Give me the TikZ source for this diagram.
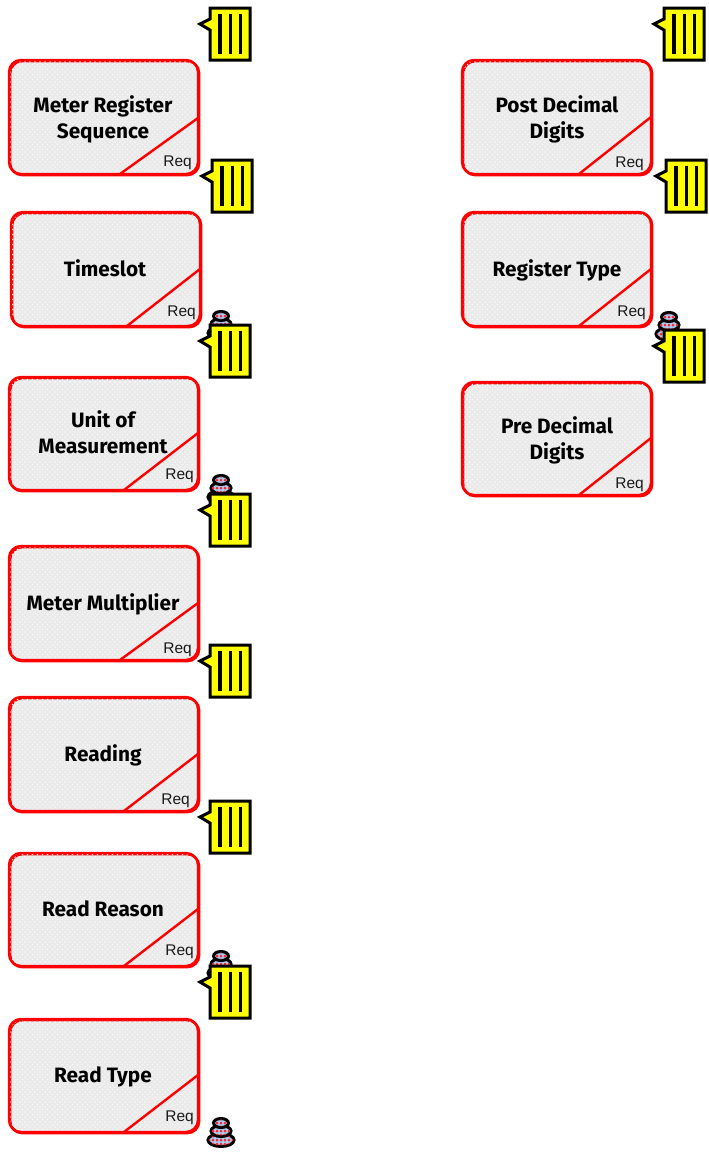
\documentclass[tikz,border=0pt]{standalone}
\usepackage{fontspec}
\setmainfont{Liberation Sans}
\newfontfamily\titlefont{Fira Sans}[UprightFont={* Bold}]
\usetikzlibrary{patterns,calc}
\pgfdeclarepatternformonly{cardweave}{\pgfpoint{-1pt}{-1pt}}{\pgfpoint{5pt}{5pt}}{\pgfpoint{5pt}{5pt}}{
  \pgfpathcircle{\pgfpoint{0pt}{0pt}}{0.95pt}
  \pgfpathcircle{\pgfpoint{2.5pt}{2.5pt}}{0.95pt}
  \pgfusepath{fill}
}
\definecolor{boxgrey}{RGB}{234,234,234}
\definecolor{stoneblue}{RGB}{168,204,244}
\definecolor{noteyellow}{RGB}{255,255,0}
\definecolor{cardred}{RGB}{255,0,0}
\tikzset{
  x=1pt,y=-1pt,
  regbox/.style={draw=cardred,line width=2.4pt,rounded corners=12pt,fill=boxgrey,inner sep=0pt,anchor=north west},
  boxtitle/.style={font=\titlefont\fontsize{20.8}{26}\selectfont,align=center,text=black,inner sep=0pt},
  reqlabel/.style={font=\fontsize{15.5}{16}\selectfont,text=black!90,inner sep=0pt,anchor=mid east},
  notebody/.style={draw=black,line width=3pt,fill=noteyellow,line join=miter},
  stone/.style={draw=black,line width=3pt,fill=stoneblue},
}
\newcommand{\regcard}[9]{% name l t r b diagx diagy reqright reqy
  \node[regbox,minimum width=#4pt-#2pt,minimum height=#5pt-#3pt] (#1) at (#2,#3) {};
  \fill[pattern=cardweave,pattern color=white!70!boxgrey,rounded corners=12pt] (#2,#3) rectangle (#4,#5);
  \draw[cardred,line width=2.4pt,rounded corners=12pt] (#2,#3) rectangle (#4,#5);
  \draw[cardred,line width=2.4pt] (#6,#5) -- (#4,#7);
  \node[reqlabel] (#1req) at (#8,#9) {Req};
}
\newcommand{\notemark}[2]{% left top
  \begin{scope}[shift={(#1,#2)}]
    \draw[notebody] (0,0) -- (40,0) -- (40,52) -- (0,52) -- (0,22) -- (-10,16) -- (0,11) -- cycle;
    \foreach \xx in {10,20.5,30.5} \draw[black,line width=3.2pt] (\xx,6) -- (\xx,46);
  \end{scope}
}
\newcommand{\stack}[2]{% centre x, top y
  \begin{scope}[shift={(#1,#2)}]
    \foreach \cy/\rx/\ry in {22/13/6.5,13/10/5.5,5/7.5/4.5}{
      \draw[stone] (0,\cy) ellipse [x radius=\rx,y radius=\ry];
      \begin{scope}
        \clip (0,\cy) ellipse [x radius=\rx-1,y radius=\ry-1];
        \foreach \dx in {-12,-8,...,12} \foreach \dy in {-4,0,4}
          \fill[cardred!85!white] (\dx,\cy+\dy) circle (1.5);
      \end{scope}
    }
  \end{scope}
}
\begin{document}
\begin{tikzpicture}
\useasboundingbox (0,0) rectangle (709,1152);
\regcard{a}{9}{60}{198}{174}{120}{118}{192}{164}
\regcard{b}{11}{212}{200}{326}{127}{269}{196}{314}
\regcard{c}{9}{377}{198}{490}{124}{433}{194}{477}
\regcard{d}{9}{546}{198}{660}{120}{603}{192}{651}
\regcard{e}{9}{697}{198}{811}{124}{754}{190}{802}
\regcard{f}{9}{853}{198}{966}{124}{909}{194}{953}
\regcard{g}{9}{1019}{198}{1132}{124}{1075}{194}{1119}
\regcard{p}{462}{60}{651}{174}{579}{117}{644}{165}
\regcard{q}{462}{212}{651}{326}{579}{269}{646}{314}
\regcard{s}{462}{382}{651}{495}{579}{438}{644}{486}
\node[boxtitle] (ta) at (103,119) {Meter Register\\Sequence};
\node[boxtitle] (tb) at (105,268) {Timeslot};
\node[boxtitle] (tc) at (103,432) {Unit of\\Measurement};
\node[boxtitle] (td) at (103,604) {Meter Multiplier};
\node[boxtitle] (te) at (103,755) {Reading};
\node[boxtitle] (tf) at (103,909) {Read Reason};
\node[boxtitle] (tg) at (103,1077) {Read Type};
\node[boxtitle] (tp) at (557,119) {Post Decimal\\Digits};
\node[boxtitle] (tq) at (557,270) {Register Type};
\node[boxtitle] (ts) at (557,440) {Pre Decimal\\Digits};
\stack{221}{311}
\stack{221}{475}
\stack{221}{951}
\stack{221}{1118}
\stack{669}{312}
\notemark{210}{8}
\notemark{212}{160}
\notemark{210}{325}
\notemark{210}{494}
\notemark{210}{645}
\notemark{210}{801}
\notemark{210}{966}
\notemark{664}{8}
\notemark{666}{160}
\notemark{664}{330}
\end{tikzpicture}
\end{document}
